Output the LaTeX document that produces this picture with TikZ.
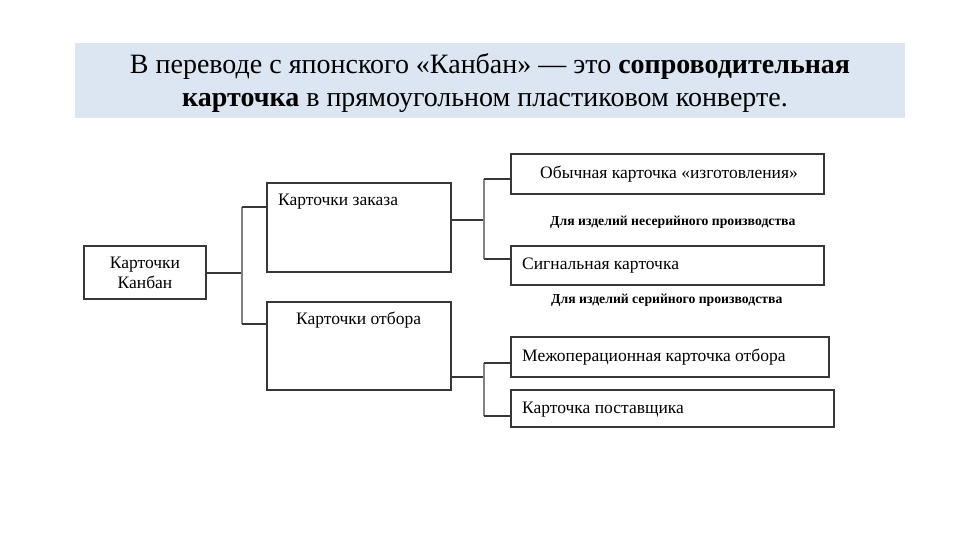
\documentclass[tikz,border=0pt]{standalone}
\usepackage{fontspec}
\setmainfont{Liberation Serif}
\definecolor{bandblue}{RGB}{220,230,242}
\definecolor{boxline}{RGB}{55,55,55}
\definecolor{trunk}{RGB}{130,130,130}
\begin{document}
\begin{tikzpicture}[x=1pt,y=-1pt,
  box/.style={draw=boxline,line width=1.3pt,fill=white,inner sep=0pt,minimum width=#1},
  conn/.style={draw=boxline,line width=1.3pt},
  trk/.style={draw=trunk,line width=2pt},
  txt/.style={font=\fontsize{17.5}{20}\selectfont,inner sep=0pt,anchor=west},
  note/.style={font=\fontsize{13.7}{15}\selectfont\bfseries,inner sep=0pt,anchor=west},
  ttl/.style={font=\fontsize{28}{32}\selectfont,inner sep=0pt,anchor=base}]
\useasboundingbox (0,0) rectangle (960,540);
\fill[white] (0,0) rectangle (960,540);
\fill[bandblue] (75,43) rectangle (905,118);
\node[ttl] (t1) at (490,74) {В переводе с японского «Канбан» — это \textbf{сопроводительная}};
\node[ttl] (t2) at (485,107) {\textbf{карточка} в прямоугольном пластиковом конверте.};

% boxes
\node[box=122pt,minimum height=53pt] (kanban) at (145,272.5) {};
\node[box=184pt,minimum height=89pt] (zakaz) at (359,227.5) {};
\node[box=184pt,minimum height=88pt] (otbor) at (359,346) {};
\node[box=313pt,minimum height=40pt] (obych) at (667.5,174) {};
\node[box=313pt,minimum height=39pt] (signal) at (667.5,265.5) {};
\node[box=318pt,minimum height=40pt] (mezh) at (670,357) {};
\node[box=323pt,minimum height=37pt] (post) at (672.5,408.5) {};

% texts
\node[font=\fontsize{17.5}{20}\selectfont,align=center,inner sep=0pt] (kt) at (145,273) {Карточки\\Канбан};
\node[txt] (zt) at (278,202) {Карточки заказа};
\node[txt] (ot) at (296,320) {Карточки отбора};
\node[txt] (obt) at (540,174) {Обычная карточка «изготовления»};
\node[txt] (st) at (522,266) {Сигнальная карточка};
\node[txt] (mt) at (522,357) {Межоперационная карточка отбора};
\node[txt] (pt) at (522,410) {Карточка поставщика};
\node[note] (n1) at (550,222) {Для изделий несерийного производства};
\node[note] (n2) at (551,300) {Для изделий серийного производства};

% junction coordinates
\coordinate (j0) at (242,273);
\coordinate (j0a) at (242,207);
\coordinate (j0b) at (242,324);
\coordinate (j1) at (484,220);
\coordinate (j1a) at (484,179);
\coordinate (j1b) at (484,259);
\coordinate (j2) at (484,377);
\coordinate (j2a) at (484,363);
\coordinate (j2b) at (484,416);

% connectors
\draw[conn] (kanban.east |- j0) -- (j0);
\draw[trk] (j0a) -- (j0b);
\draw[conn] (j0a) -- (j0a -| zakaz.west);
\draw[conn] (j0b) -- (j0b -| otbor.west);

\draw[conn] (zakaz.east |- j1) -- (j1);
\draw[trk] (j1a) -- (j1b);
\draw[conn] (j1a) -- (j1a -| obych.west);
\draw[conn] (j1b) -- (j1b -| signal.west);

\draw[conn] (otbor.east |- j2) -- (j2);
\draw[trk] (j2a) -- (j2b);
\draw[conn] (j2a) -- (j2a -| mezh.west);
\draw[conn] (j2b) -- (j2b -| post.west);
\end{tikzpicture}
\end{document}
